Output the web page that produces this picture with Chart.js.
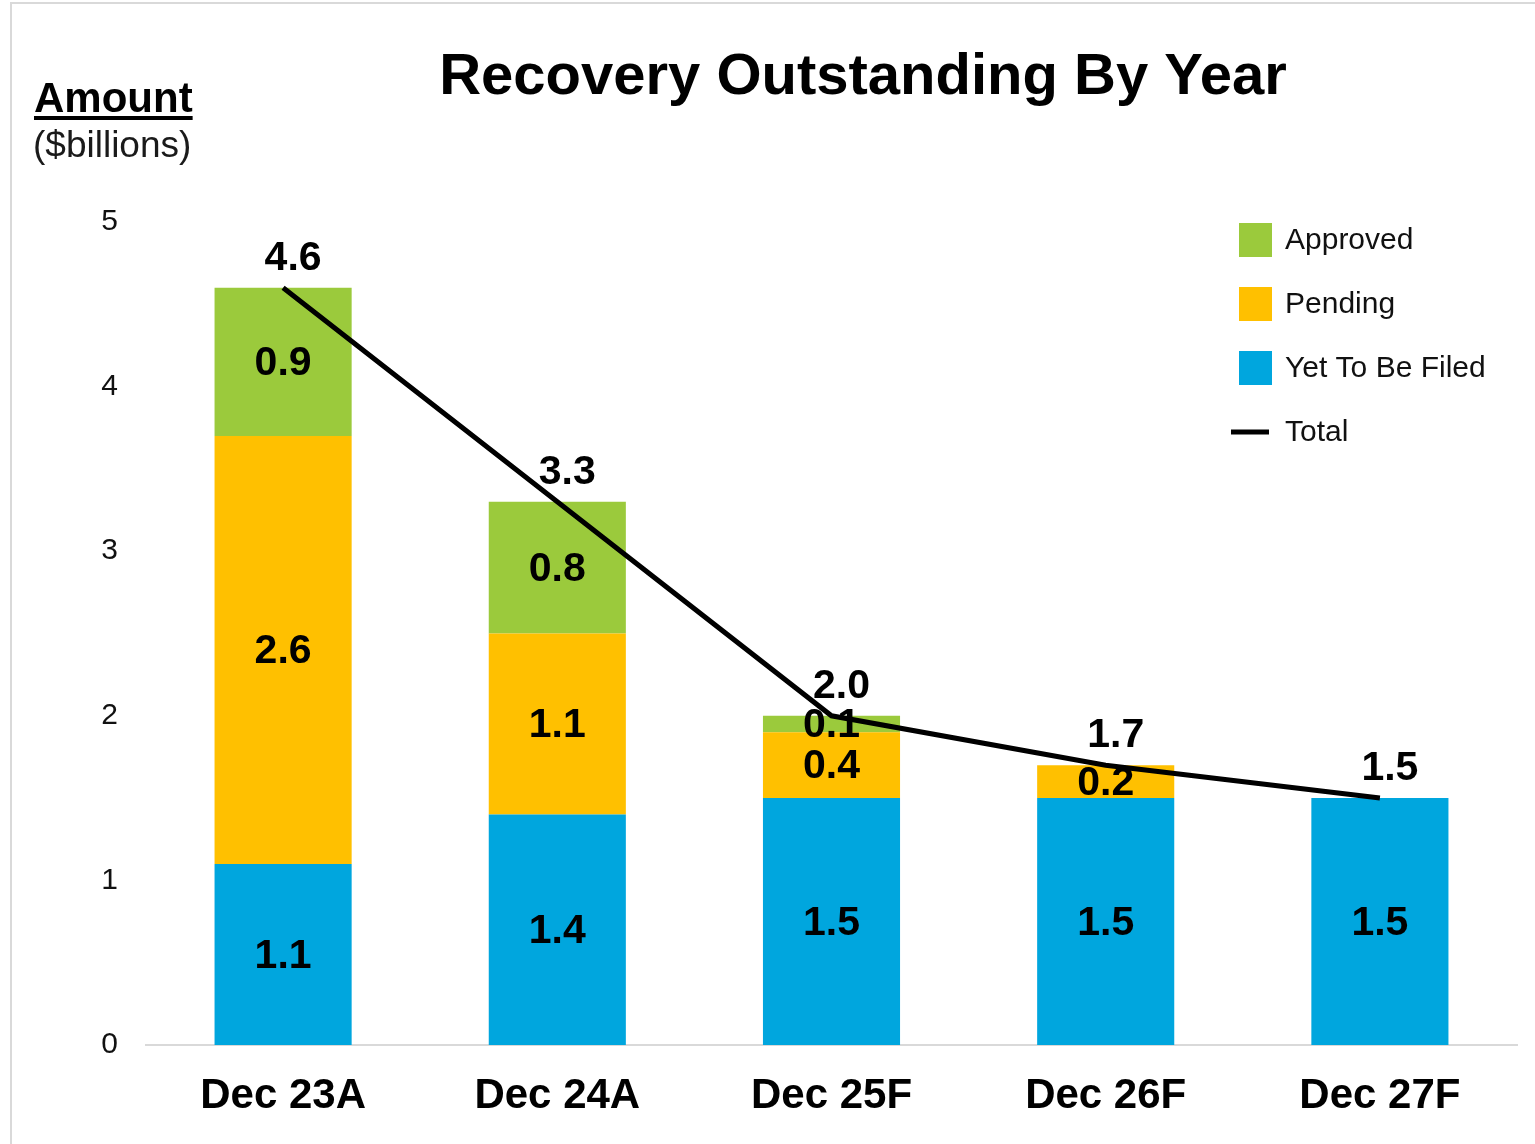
<!DOCTYPE html>
<html>
<head>
<meta charset="utf-8">
<title>Recovery Outstanding By Year</title>
<script src="https://cdn.jsdelivr.net/npm/chart.js@4.4.1/dist/chart.umd.min.js"></script>
<style>
    html, body { margin: 0; padding: 0; background: #ffffff; }
    #wrap { position: relative; width: 1535px; height: 1144px; }
    #frame {
        position: absolute; left: 10px; top: 2px; right: 0; bottom: 0;
        border-left: 2px solid #d9d9d9; border-top: 2px solid #d9d9d9;
        pointer-events: none;
    }
</style>
</head>
<body>
<div id="wrap">
    <canvas id="recovery-chart" width="1535" height="1144"></canvas>
    <div id="frame"></div>
</div>
<script>
// Chart data
const categories = ['Dec 23A', 'Dec 24A', 'Dec 25F', 'Dec 26F', 'Dec 27F'];
const yetToBeFiled = [1.1, 1.4, 1.5, 1.5, 1.5];
const pending = [2.6, 1.1, 0.4, 0.2, 0];
const approved = [0.9, 0.8, 0.1, 0, 0];
const totals = [4.6, 3.3, 2.0, 1.7, 1.5];
const yTicks = [0, 1, 2, 3, 4, 5];

const FONT = '"Liberation Sans", Arial, sans-serif';

// Titles drawn straight on the canvas
const headerPlugin = {
    id: 'header',
    afterDraw(chart) {
        const ctx = chart.ctx;
        ctx.save();
        ctx.fillStyle = '#000000';
        ctx.textBaseline = 'alphabetic';

        ctx.textAlign = 'center';
        ctx.font = 'bold 58px ' + FONT;
        ctx.fillText('Recovery Outstanding By Year', 863, 94);

        ctx.textAlign = 'left';
        ctx.font = 'bold 42px ' + FONT;
        ctx.fillText('Amount', 34, 112);
        const w = ctx.measureText('Amount').width;
        ctx.fillRect(34, 116, w, 4);

        ctx.fillStyle = '#1a1a1a';
        ctx.font = '37px ' + FONT;
        ctx.fillText('($billions)', 33, 157);
        ctx.restore();
    }
};

// Legend in the top right corner
const legendPlugin = {
    id: 'cornerLegend',
    afterDraw(chart) {
        const ctx = chart.ctx;
        const order = ['Approved', 'Pending', 'Yet To Be Filed', 'Total'];
        ctx.save();
        ctx.font = '30px ' + FONT;
        ctx.textBaseline = 'middle';
        ctx.textAlign = 'left';
        order.forEach(function(name, i) {
            const ds = chart.data.datasets.find(function(d) { return d.label === name; });
            const cy = 240 + i * 64;
            if (ds.type === 'line') {
                ctx.fillStyle = ds.borderColor;
                ctx.fillRect(1231, cy - 2.5, 38, 5);
            } else {
                ctx.fillStyle = ds.backgroundColor;
                ctx.fillRect(1239, cy - 17, 33, 34);
            }
            ctx.fillStyle = '#111111';
            ctx.fillText(name, 1285, cy + 1);
        });
        ctx.restore();
    }
};

// Value labels on bar segments and the total line
const valueLabelPlugin = {
    id: 'valueLabels',
    afterDatasetsDraw(chart) {
        const ctx = chart.ctx;
        ctx.save();
        ctx.font = 'bold 41px ' + FONT;
        ctx.fillStyle = '#000000';
        ctx.textAlign = 'center';
        ctx.textBaseline = 'middle';
        chart.data.datasets.forEach(function(ds, di) {
            const meta = chart.getDatasetMeta(di);
            meta.data.forEach(function(el, i) {
                const v = ds.data[i];
                if (!v) return;
                const text = v.toFixed(1);
                if (ds.type === 'line') {
                    ctx.fillText(text, el.x + 10, el.y - 29);
                } else {
                    ctx.fillText(text, el.x, (el.y + el.base) / 2 + 2);
                }
            });
        });
        ctx.restore();
    }
};

function barSet(label, data, color) {
    return {
        type: 'bar',
        label: label,
        data: data,
        backgroundColor: color,
        borderWidth: 0,
        stack: 'parts',
        order: 2,
        categoryPercentage: 1,
        barPercentage: 0.5
    };
}

const ctx = document.getElementById('recovery-chart').getContext('2d');
const recoveryChart = new Chart(ctx, {
    data: {
        labels: categories,
        datasets: [
            barSet('Yet To Be Filed', yetToBeFiled, '#00A6DE'),
            barSet('Pending', pending, '#FFC000'),
            barSet('Approved', approved, '#9BCA3C'),
            {
                type: 'line',
                label: 'Total',
                data: totals,
                borderColor: '#000000',
                backgroundColor: '#000000',
                borderWidth: 5,
                pointRadius: 0,
                tension: 0,
                fill: false,
                stack: 'total',
                order: 1
            }
        ]
    },
    options: {
        responsive: false,
        animation: false,
        layout: { padding: { top: 222, right: 18, left: 0, bottom: 0 } },
        plugins: {
            legend: { display: false },
            tooltip: { enabled: false },
            title: { display: false }
        },
        scales: {
            x: {
                stacked: true,
                grid: { display: false, drawTicks: false },
                border: { display: true, color: '#d9d9d9', width: 2 },
                ticks: {
                    color: '#000000',
                    padding: 26,
                    font: { family: FONT, size: 42, weight: 'bold' }
                },
                afterFit: function(scale) { scale.height = 99; }
            },
            y: {
                stacked: true,
                min: 0,
                max: 5,
                grid: { display: false, drawTicks: false },
                border: { display: false },
                afterBuildTicks: function(scale) {
                    scale.ticks = yTicks.map(function(v) { return { value: v }; });
                },
                ticks: {
                    color: '#111111',
                    padding: 28,
                    font: { family: FONT, size: 30 }
                },
                afterFit: function(scale) { scale.width = 146; }
            }
        }
    },
    plugins: [headerPlugin, legendPlugin, valueLabelPlugin]
});
</script>
</body>
</html>
